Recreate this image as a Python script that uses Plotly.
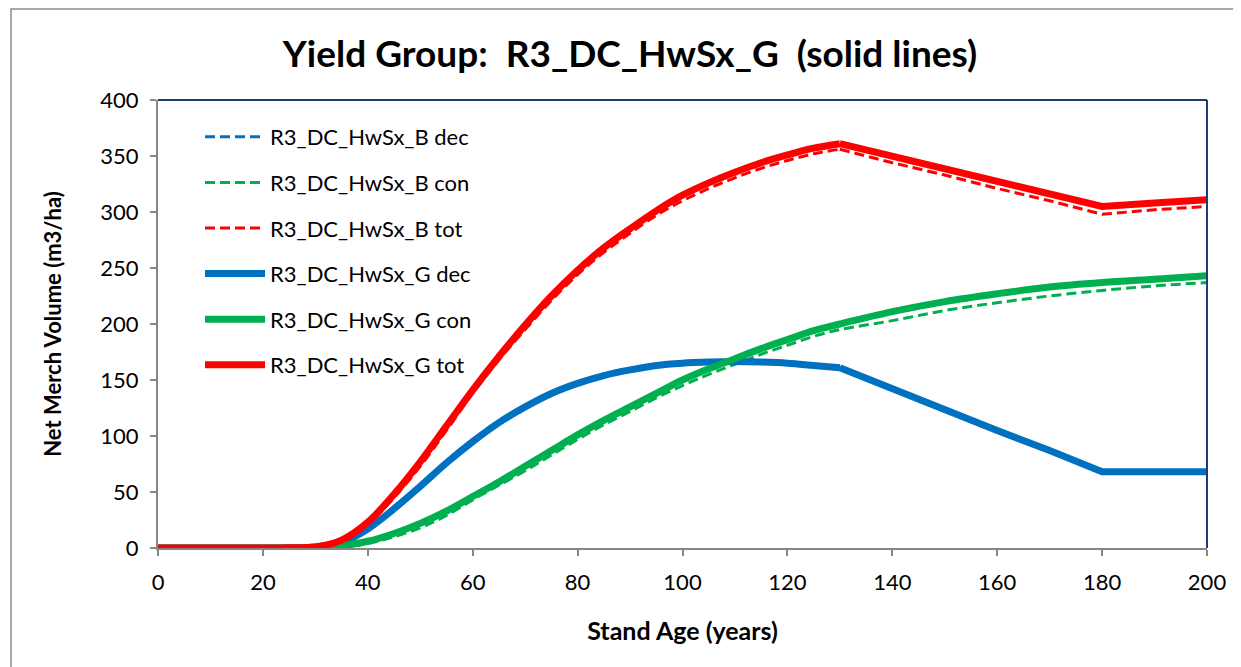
import plotly.graph_objects as go

ages = [0, 5, 10, 15, 20, 25, 30, 35, 40, 45, 50, 55, 60, 65, 70, 75, 80, 85, 90, 95,
        100, 105, 110, 115, 120, 125, 130, 140, 150, 160, 170, 180, 190, 200]

g_dec = [0, 0, 0, 0, 0, 0.2, 1, 5, 17, 35, 55, 76, 95, 112, 126, 138, 147, 154, 159, 163,
         165, 166, 166.5, 166, 165, 163, 161, 142, 124, 105, 87, 68, 68, 68]
g_con = [0, 0, 0, 0, 0, 0, 0, 2, 6, 13, 22, 33, 46, 59, 73, 87, 101, 114, 126, 138,
         150, 160, 169, 178, 186, 194, 200, 211, 220, 227, 233, 237, 240, 243]
g_tot = [0, 0, 0, 0, 0, 0.2, 1, 7, 23, 48, 77, 109, 141, 171, 199, 225, 248, 268, 285, 301,
         315, 326, 335.5, 344, 351, 357, 361, 350, 339, 328, 317, 305, 308, 311]

b_dec = [0, 0, 0, 0, 0, 0.2, 1, 5, 17, 35, 55, 76, 95, 112, 126, 138, 147, 154, 159, 163,
         165, 166, 166.5, 166, 165, 163, 161, 142, 124, 105, 87, 68, 68, 68]
b_con = [0, 0, 0, 0, 0, 0, 0, 1, 4, 10, 18, 29, 43, 56, 69, 83, 97, 110, 122, 134,
         145, 155, 164, 173, 181, 189, 195, 203, 212, 219, 225, 230, 234, 237]
b_tot = [0, 0, 0, 0, 0, 0.2, 1, 6, 21, 45, 73, 105, 138, 168, 195, 221, 244, 264, 281, 297,
         310, 321, 330.5, 339, 346, 352, 356, 344, 333, 321, 310, 298, 302, 305]

# (name, values, colour, width, dash, smooth after age 130?)
series = [
    ("R3_DC_HwSx_B dec", b_dec, "#0070C0", 3, "10px,5px", False),
    ("R3_DC_HwSx_B con", b_con, "#00B050", 3, "10px,5px", True),
    ("R3_DC_HwSx_B tot", b_tot, "#FF0000", 3, "10px,5px", False),
    ("R3_DC_HwSx_G dec", g_dec, "#0070C0", 7, "solid", False),
    ("R3_DC_HwSx_G con", g_con, "#00B050", 7, "solid", True),
    ("R3_DC_HwSx_G tot", g_tot, "#FF0000", 7, "solid", False),
]

BREAK = ages.index(130)

FONT = "Lato"
fig = go.Figure()
for i, (name, vals, color, w, dash, smooth_all) in enumerate(series):
    if smooth_all:
        fig.add_trace(go.Scatter(
            x=ages, y=vals, name=name, mode="lines", legendgroup=f"g{i}",
            line=dict(color=color, width=w, dash=dash, shape="spline", smoothing=1),
            cliponaxis=False,
        ))
    else:
        fig.add_trace(go.Scatter(
            x=ages[:BREAK + 1], y=vals[:BREAK + 1], name=name, mode="lines", legendgroup=f"g{i}",
            line=dict(color=color, width=w, dash=dash, shape="spline", smoothing=1),
            cliponaxis=False,
        ))
        fig.add_trace(go.Scatter(
            x=ages[BREAK:], y=vals[BREAK:], name=name, mode="lines", legendgroup=f"g{i}",
            showlegend=False,
            line=dict(color=color, width=w, dash=dash, shape="linear"),
            cliponaxis=False,
        ))

W, H = 1241, 667
S = 8  # page offset of the figure
L, T = 158 - S, 100 - S
R = W - (1207 - S)
B = H - (548 - S)
pw, ph = W - L - R, H - T - B

def px(x):
    return (x - S - L) / pw

def py(y):
    return (H - B - (y - S)) / ph

grey = "#868686"
navy = "#1F3A74"

fig.update_layout(
    width=W, height=H,
    margin=dict(l=L, r=R, t=T, b=B),
    paper_bgcolor="white", plot_bgcolor="white",
    font=dict(family=FONT, size=22, color="black"),
    title=dict(text="<b>Yield Group:  R3_DC_HwSx_G  (solid lines)</b>",
               x=(630 - S) / W, xref="container", xanchor="center",
               y=1 - (54 - S) / H, yanchor="middle", font=dict(size=37, family=FONT)),
    showlegend=True,
    legend=dict(x=px(200), y=py(116), xanchor="left", yanchor="top",
                bgcolor="rgba(0,0,0,0)", font=dict(size=22, family=FONT),
                tracegroupgap=14, itemwidth=60),
    shapes=[
        dict(type="rect", xref="paper", yref="paper",
             x0=px(11), x1=px(1300), y0=py(9), y1=py(720),
             line=dict(color="#8C8C8C", width=1.5), fillcolor="rgba(0,0,0,0)", layer="below"),
        dict(type="line", xref="paper", yref="paper", x0=0, x1=1, y0=1, y1=1,
             line=dict(color=navy, width=2)),
        dict(type="line", xref="paper", yref="paper", x0=1, x1=1, y0=0, y1=1,
             line=dict(color=navy, width=2)),
    ],
)

fig.update_xaxes(
    range=[0, 200], dtick=20, tick0=0, showgrid=False, zeroline=False,
    showline=True, linecolor=grey, linewidth=2,
    ticks="outside", ticklen=6, tickcolor=grey, tickwidth=2,
    ticklabelstandoff=8,
    tickfont=dict(size=22, family=FONT),
    title=dict(text="<b>Stand Age (years)</b>", font=dict(size=25, family=FONT), standoff=28),
)
fig.update_yaxes(
    range=[0, 400], dtick=50, tick0=0, showgrid=False, zeroline=False,
    showline=True, linecolor=grey, linewidth=2,
    ticks="outside", ticklen=6, tickcolor=grey, tickwidth=2,
    ticklabelstandoff=7,
    tickfont=dict(size=22, family=FONT),
    title=dict(text="<b>Net Merch Volume (m3/ha)</b>", font=dict(size=22, family=FONT), standoff=33),
)

fig.write_html("out.html")
